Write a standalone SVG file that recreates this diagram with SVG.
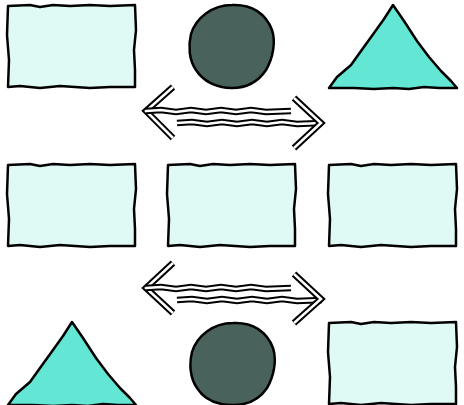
<svg xmlns="http://www.w3.org/2000/svg" width="464" height="405" viewBox="0 0 464 405">
<style>
.box{fill:#dff9f4;stroke:#000;stroke-width:2.5;stroke-linejoin:round}
.tri{fill:#63e6d3;stroke:#000;stroke-width:2.5;stroke-linejoin:round}
.circ{fill:#4a625c;stroke:#000;stroke-width:2.5}
.outer{fill:none;stroke:#000;stroke-width:6.5;stroke-linecap:butt;stroke-linejoin:miter}
.inner{fill:none;stroke:#fff;stroke-width:2.5;stroke-linecap:butt;stroke-linejoin:miter}
</style>
<defs>
<path id="wbox" d="M0,2 L22,1 L32,3 L45,1 L62,2 L82,1 L102,2 L127,1 L128,26 L126,46 L127,66 L127,83 L102,83 L82,84 L52,82 L32,84 L12,82 L0,83 L1,56 L-1,31 Z"/>
<path id="wtri" d="M64,0 L75,16 L88,36 L100,52 L112,66 L122,76 L128,83 L110,83 L95,82 L80,84 L64,83 L45,84 L25,83 L0,83 L8,72 L22,60 L32,46 L45,28 L55,14 Z"/>
<path id="shaftA" d="M0,0 L15,-1 L30,1 L45,-1 L60,1 L75,-1 L90,1 L105,-1 L120,1 L145,0"/>
</defs>
<g id="rect-top-left"><use href="#wbox" class="box" transform="translate(8,4)"/></g>
<g id="circle-top"><path class="circ" d="M232,5 C252,4 266,14 272,30 C276,42 273,58 266,70 C258,82 246,88 232,88 C216,88 203,81 196,70 C189,60 188,46 191,34 C196,18 212,5 232,5 Z"/></g>
<g id="triangle-top-right"><use href="#wtri" class="tri" transform="translate(329,5)"/></g>
<g id="rect-mid-left"><use href="#wbox" class="box" transform="translate(8,163)"/></g>
<g id="rect-mid-center"><use href="#wbox" class="box" transform="translate(168,163)"/></g>
<g id="rect-mid-right"><use href="#wbox" class="box" transform="translate(329,163)"/></g>
<g id="triangle-bottom-left"><use href="#wtri" class="tri" transform="translate(8,322)"/></g>
<g id="circle-bottom"><path class="circ" d="M233,323 C253,322 267,332 273,348 C277,360 274,376 267,388 C259,400 247,405 233,405 C217,405 204,399 197,388 C190,378 189,364 192,352 C197,336 213,323 233,323 Z"/></g>
<g id="rect-bottom-right"><use href="#wbox" class="box" transform="translate(329,321)"/></g>
<g id="connectors">
  <g>
    <polyline class="outer" points="173,87 146,111 173,138"/>
    <polyline class="inner" points="173,87 146,111 173,138"/>
    <use href="#shaftA" class="outer" transform="translate(146,111)"/>
    <use href="#shaftA" class="inner" transform="translate(146,111)"/>
    <use href="#shaftA" class="outer" transform="translate(177,123)"/>
    <use href="#shaftA" class="inner" transform="translate(177,123)"/>
    <polyline class="outer" points="294,98 321,123 294,148"/>
    <polyline class="inner" points="294,98 321,123 294,148"/>
  </g>
  <g>
    <polyline class="outer" points="173,263 146,288 173,313"/>
    <polyline class="inner" points="173,263 146,288 173,313"/>
    <use href="#shaftA" class="outer" transform="translate(146,288)"/>
    <use href="#shaftA" class="inner" transform="translate(146,288)"/>
    <use href="#shaftA" class="outer" transform="translate(177,300)"/>
    <use href="#shaftA" class="inner" transform="translate(177,300)"/>
    <polyline class="outer" points="294,274 321,299 294,323"/>
    <polyline class="inner" points="294,274 321,299 294,323"/>
  </g>
</g>
</svg>
